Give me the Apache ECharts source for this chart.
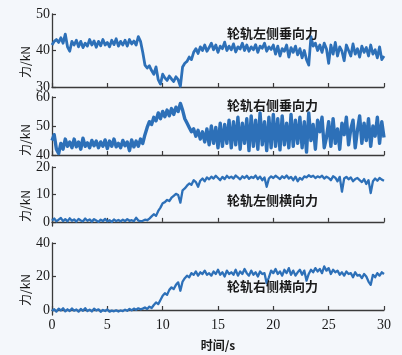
<!DOCTYPE html>
<html>
<head>
<meta charset="utf-8">
<script src="https://cdn.jsdelivr.net/npm/echarts@6/dist/echarts.min.js"></script>
<style>
html,body{margin:0;padding:0;background:#f4f7fb;}
#c{width:402px;height:355px;}
</style>
</head>
<body>
<div id="c"></div>
<script>
// sample step (s) of the traces
const dt = 0.2;
const xTicks = [0, 5, 10, 15, 20, 25, 30];
const panelTitles = ['轮轨左侧垂向力', '轮轨右侧垂向力', '轮轨左侧横向力', '轮轨右侧横向力'];
const yTicks1 = [30, 40, 50];
const yTicks2 = [40, 50, 60];
const yTicks3 = [0, 10, 20];
const yTicks4 = [0, 20, 40];

const leftVertical = [
41.5,42.5,43,42.2,43.5,42,44.5,41,39.8,42.5,41.5,
42.8,41,42.5,40.8,42,41.2,43,41.5,42.6,40.9,
42.5,41.3,43,41.5,42.2,41,42.8,41.6,43.2,41.2,
42.5,41.5,42.8,41.2,43,41.8,42.6,41.5,43.8,42.5,
39.5,36,35.2,35.8,34.5,33.5,35.5,32,30.8,33.5,
32.5,31.8,33,32.2,31.5,32.8,32,30.2,35.5,36.5,
37,38.2,37.5,39.5,40.5,39.2,41,40,41.5,39.8,
40.8,42,40.2,41.5,39.5,41.2,40.5,42.3,40,41.2,
40.2,41.8,39.6,41,40.4,42,40,41.5,39.8,41,
40.2,41.6,39.5,41.2,40.6,42,39.8,41,40.3,41.5,
39,41.2,38.5,40.5,39.8,41.5,38.2,40.8,39.5,41.2,
38.8,40.5,38,40,37.5,36,43.8,41.2,42,40,
41.5,39.5,42,40.5,36.5,41.5,39,42.2,38.5,41,
39.8,37.2,41.5,40,38.5,41.8,39,40.5,38.2,41.2,
39.5,40.8,38.5,41.5,39,40.2,38,41,37.5,38.5
];
const rightVertical = [
45,47,42,40.5,44,42,45.5,43,44.5,42.5,45.5,
42.8,44.5,42,45.8,43,44.2,42.5,45,43.2,44.8,
42.5,44.5,43,45.2,42.2,44.8,43,45.5,42.8,44,
42.5,45,43.2,44.5,41.5,45.2,42.8,44.8,43,45.5,
44,47,49.5,51.5,50.5,53,51.8,54.5,52.5,55,
53.2,55.5,53.5,56,54,56.5,55,57.8,55.5,52.5,
51,49.5,48,49,46.5,48.5,45.5,48,44.5,49,
43.5,50,44,49.5,42.5,51,43,50.5,44,52,
42.5,51.5,43.5,53,42,51,44,52.5,41.5,53.5,
43,52,42,54.5,43.5,51.5,41.5,53,42.5,54,
43,52.5,41.8,53.5,43.5,51,42.5,54,43,52,
44,53,42.5,51.5,41,54.5,45,50.5,42,52,
48,53,42.5,46,51.5,43,52.5,44,49,42,
51,47,53,43.5,49,52,42.5,48.5,53.5,44,
51,45,52.5,43,50,46.5,53,44,51.5,46
];
const leftLateral = [
0.5,1.2,0.2,0.8,1.4,0.3,1.0,0.2,1.3,0.4,0.9,
0.1,1.1,0.5,0.2,1.2,0.4,0.9,0.1,1.0,0.5,
0.0,0.8,0.3,1.1,0.2,0.6,0.0,0.9,0.3,0.7,
0.2,0.8,0.3,1.0,0.4,0.6,0.3,1.5,0.5,0.3,
0.4,0.8,0.6,1.2,2.0,2.8,2.2,4.0,5.2,6.8,
7.2,8.0,7.6,8.8,9.5,10.2,9.8,7.0,11.5,12.2,
13.2,14.0,13.5,15.2,14.5,12.8,15.0,15.8,14.8,16.2,
15.5,16.5,15.8,16.8,16.0,15.2,16.4,15.6,16.8,16.0,
16.5,15.8,16.9,16.2,15.5,16.6,16.0,16.8,15.7,16.4,
16.0,16.9,15.6,16.5,15.2,16.2,12.8,15.8,16.6,16.0,
16.8,16.2,15.6,16.6,16.0,16.9,15.8,16.4,15.2,16.5,
14.8,16.0,15.4,16.6,16.2,17.0,16.4,16.8,16.0,16.6,
16.2,16.8,15.8,16.5,16.0,15.2,16.6,16.1,14.8,16.4,
11.0,15.8,16.4,15.5,16.2,14.8,15.6,16.0,15.2,14.5,
15.6,13.8,15.2,10.5,14.8,15.8,15.0,16.0,15.4,15.0
];
const rightLateral = [
-0.5,0.5,-1.0,0.8,-0.3,1.0,-0.8,0.4,-0.6,0.9,-0.4,
0.3,-1.0,0.6,-0.5,1.1,-0.7,0.2,-0.9,0.8,-0.3,
0.4,-1.1,0.0,-0.6,0.3,-1.0,-0.4,-0.8,-0.2,-0.9,
-0.3,-0.7,0.2,-0.5,0.6,-0.2,0.8,0.1,1.0,0.4,
0.8,1.5,0.6,2.0,1.2,3.0,4.5,3.5,6.0,8.5,
10.0,9.0,12.0,13.5,12.5,15.0,16.5,11.5,17.0,19.0,
20.5,19.5,22.0,21.0,23.0,20.5,22.5,21.5,23.5,21.0,
22.0,20.5,23.0,21.5,24.0,21.0,22.5,20.0,23.5,21.5,
22.5,21.0,24.0,20.5,23.0,21.5,24.5,22.0,20.5,23.5,
21.0,22.5,20.0,23.0,21.5,22.0,16.0,19.5,23.5,22.0,
24.5,21.5,23.0,20.5,24.0,22.0,25.0,21.0,23.5,20.5,
22.5,24.0,21.0,23.5,17.5,21.5,24.0,22.5,25.0,23.0,
24.5,22.0,26.0,23.5,25.0,21.5,24.0,22.5,23.5,21.0,
22.5,20.5,23.0,21.5,22.0,19.5,22.5,20.5,21.0,19.0,
21.5,20.0,17.0,15.0,21.0,19.5,22.0,20.5,22.5,21.5
];

const seriesValues = [leftVertical, rightVertical, leftLateral, rightLateral];
const yTickSets = [yTicks1, yTicks2, yTicks3, yTicks4];
const yMins = [30, 40, -1.5, -3];
const yMaxs = [50, 60, 20, 40];
const lineWidths = [2.8, 3.4, 2.3, 2.3];

const grids = [
  {left: 52, right: 18, top: 14, height: 73},
  {left: 52, right: 18, top: 97, height: 58},
  {left: 52, right: 18, top: 167, height: 59},
  {left: 52, right: 18, top: 243, height: 72}
];
const titleY = [35, 107, 202, 288];
const nameY = [62, 140, 206, 290];

const axisColor = '#3a3a3a';
const serif = 'Liberation Serif';
const cjk = 'Noto Sans CJK SC';

const xAxes = grids.map((g, k) => ({
  gridIndex: k, type: 'value', min: 0, max: 30, interval: 5,
  axisLine: {show: true, lineStyle: {color: axisColor, width: 1.3}},
  axisTick: {show: true, inside: true, length: 4, lineStyle: {color: axisColor, width: 1.2}},
  axisLabel: {show: k === 3, color: '#1a1a1a', fontFamily: serif, fontSize: 14, margin: 3,
              customValues: xTicks},
  splitLine: {show: false},
  name: k === 3 ? '时间/s' : '',
  nameLocation: 'middle', nameGap: 24,
  nameTextStyle: {color: '#1a1a1a', fontFamily: cjk, fontSize: 12, fontWeight: 'bold'}
}));
const yAxes = grids.map((g, k) => ({
  gridIndex: k, type: 'value', min: yMins[k], max: yMaxs[k],
  axisLine: {show: true, lineStyle: {color: axisColor, width: 1.3}},
  axisTick: {show: true, inside: true, length: 4, lineStyle: {color: axisColor, width: 1.2},
             customValues: yTickSets[k]},
  axisLabel: {color: '#1a1a1a', fontFamily: serif, fontSize: 14, margin: 2,
              customValues: yTickSets[k]},
  splitLine: {show: false}
}));
const series = seriesValues.map((vals, k) => ({
  type: 'line', xAxisIndex: k, yAxisIndex: k, showSymbol: false, symbol: 'none',
  lineStyle: {color: '#2d70b8', width: lineWidths[k], join: 'round'},
  data: vals.map((v, i) => [i * dt, v])
}));

const graphic = [];
panelTitles.forEach((t, k) => {
  graphic.push({type: 'text', left: 227, top: titleY[k] - 8, z: 10,
    style: {text: t, fill: '#1a1a1a', font: 'bold 13px "Noto Sans CJK SC"'}});
  graphic.push({type: 'text', x: 25, y: nameY[k], rotation: Math.PI / 2,
    style: {text: '力/kN', fill: '#1a1a1a', font: '12px "Noto Sans CJK SC"',
            align: 'center', verticalAlign: 'middle'}});
});

const chart = echarts.init(document.getElementById('c'));
chart.setOption({
  backgroundColor: '#f4f7fb',
  animation: false,
  grid: grids,
  xAxis: xAxes,
  yAxis: yAxes,
  series: series,
  graphic: graphic
});
</script>
</body>
</html>
